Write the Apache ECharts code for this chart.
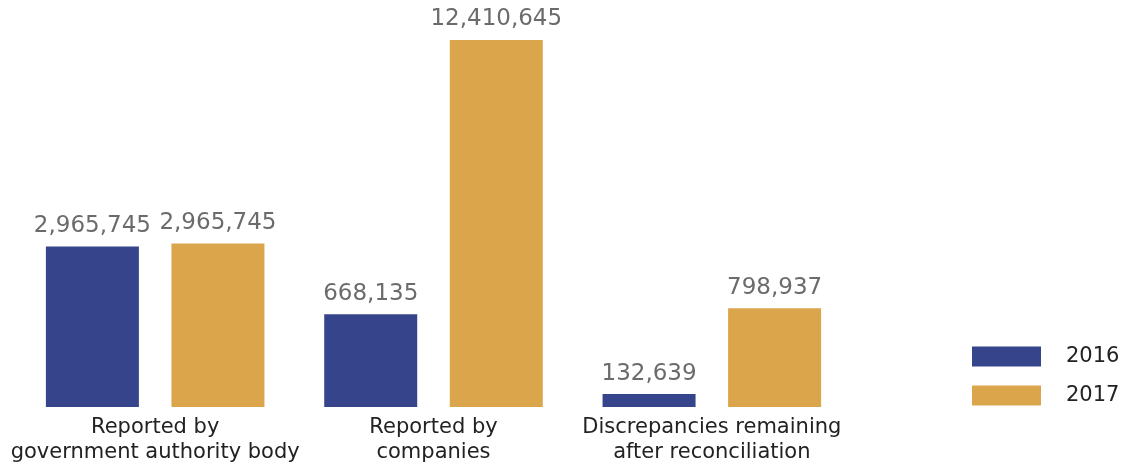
<!DOCTYPE html>
<html>
<head>
<meta charset="utf-8">
<script src="https://cdn.jsdelivr.net/npm/echarts@6/dist/echarts.min.js"></script>
<style>
    html, body {margin: 0; padding: 0; background: #fff;}
    #chart {width: 1121px; height: 465px;}
</style>
</head>
<body>
<div id="chart"></div>
<script>
// categories along the x axis
var categories = ['Reported by\ngovernment authority body', 'Reported by\ncompanies', 'Discrepancies remaining\nafter reconciliation'];
var seriesNames = ['2016', '2017'];

// values printed above the bars
var values2016 = [2965745, 668135, 132639];
var values2017 = [2965745, 12410645, 798937];

// bar heights as drawn in the picture (not proportional to the printed values)
var heights2016 = [161, 93, 13];
var heights2017 = [164, 368, 99];

var colors = ['#36448c', '#daa54b'];

var chart = echarts.init(document.getElementById('chart'));

function fmt(v) {
    return v.toString().replace(/\B(?=(\d{3})+(?!\d))/g, ',');
}

function makeSeries(name, heights, values, color) {
    return {
        name: name,
        type: 'bar',
        barWidth: 93,
        barGap: '35%',
        data: heights,
        itemStyle: {color: color},
        label: {
            show: true,
            position: 'top',
            distance: 9,
            fontFamily: 'DejaVu Sans',
            fontSize: 23,
            fontWeight: 500,
            color: '#6b6b6b',
            formatter: function (p) {
                return fmt(values[p.dataIndex]);
            }
        }
    };
}

var option = {
    animation: false,
    grid: {left: 16, width: 835, top: 40, bottom: 57},
    legend: {
        orient: 'vertical',
        left: 967,
        top: 341,
        itemWidth: 69,
        itemHeight: 20,
        itemGap: 18,
        icon: 'rect',
        textStyle: {fontFamily: 'DejaVu Sans', fontSize: 21, color: '#222', padding: [0, 0, 0, 20]},
        data: seriesNames
    },
    xAxis: {
        type: 'category',
        data: categories,
        axisLine: {show: false},
        axisTick: {show: false},
        axisLabel: {
            interval: 0,
            margin: 8,
            fontFamily: 'DejaVu Sans',
            fontSize: 21,
            lineHeight: 25,
            color: '#222'
        }
    },
    yAxis: {
        type: 'value',
        min: 0,
        max: 368,
        show: false,
        splitLine: {show: false}
    },
    series: [
        makeSeries(seriesNames[0], heights2016, values2016, colors[0]),
        makeSeries(seriesNames[1], heights2017, values2017, colors[1])
    ]
};

chart.setOption(option);
</script>
</body>
</html>
